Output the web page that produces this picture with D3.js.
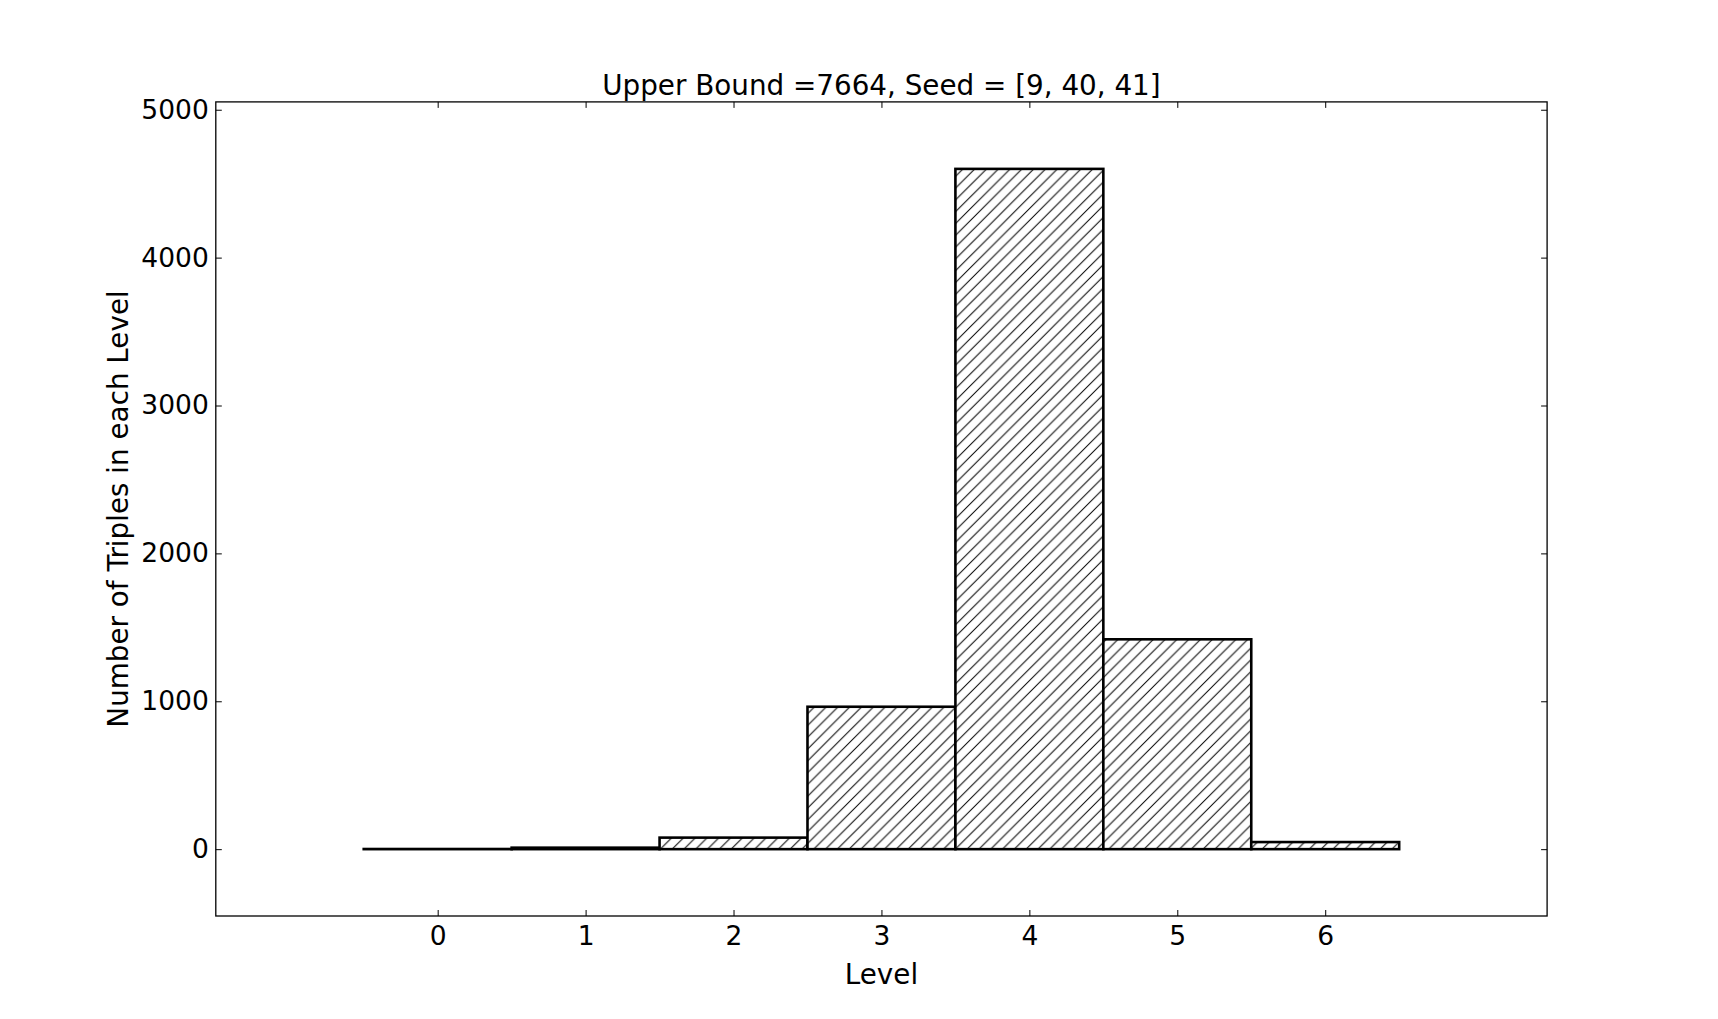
<!DOCTYPE html>
<html>
<head>
<meta charset="utf-8">
<script src="https://cdn.jsdelivr.net/npm/d3@7"></script>
<style>
  html, body { margin: 0; padding: 0; background: #fff; }
  svg { display: block; }
  text { font-family: "DejaVu Sans", sans-serif; fill: #000; }
</style>
</head>
<body>
<script>
const levels = [0, 1, 2, 3, 4, 5, 6];
const triples = [1, 10, 78, 963, 4600, 1419, 48];
const xTicks = [0, 1, 2, 3, 4, 5, 6];
const yTicks = [0, 1000, 2000, 3000, 4000, 5000];
const titleText = "Upper Bound =7664, Seed = [9, 40, 41]";
const xLabel = "Level";
const yLabel = "Number of Triples in each Level";

const W = 1718, H = 1019;
const m = { left: 215.8, top: 101.9, right: W - 1547.1, bottom: H - 916 };
const iw = W - m.left - m.right, ih = H - m.top - m.bottom;

const svg = d3.select("body").append("svg").attr("width", W).attr("height", H);

const defs = svg.append("defs");
const hp = 11.8;
const pat = defs.append("pattern").attr("id", "hatch")
  .attr("patternUnits", "userSpaceOnUse").attr("width", hp).attr("height", hp);
pat.append("rect").attr("width", hp).attr("height", hp).attr("fill", "#fff");
pat.append("path")
  .attr("d", `M0,${hp} L${hp},0 M${-hp/2},${hp/2} L${hp/2},${-hp/2} M${hp/2},${hp*1.5} L${hp*1.5},${hp/2}`)
  .attr("stroke", "#000").attr("stroke-width", 1);

const x = d3.scaleLinear().domain([-1.5, 7.5]).range([0, iw]);
const y = d3.scaleLinear().domain([-452, 5053]).range([ih, 0]);

const g = svg.append("g").attr("transform", `translate(${m.left},${m.top})`);

// bars
g.selectAll("rect.bar").data(levels).enter().append("rect")
  .attr("class", "bar")
  .attr("x", d => x(d - 0.5))
  .attr("width", d => x(d + 0.5) - x(d - 0.5))
  .attr("y", (d, i) => y(triples[i]))
  .attr("height", (d, i) => y(0) - y(triples[i]))
  .attr("fill", "url(#hatch)")
  .attr("stroke", "#000").attr("stroke-width", 2.6);

// axes with inward ticks
const fs = 26.5;
const fsL = 27.8;
const ax = (sel) => { sel.select(".domain").remove(); sel.selectAll("line").attr("stroke", "#000").attr("stroke-width", 1); };

g.append("g").attr("transform", `translate(0,${ih})`)
  .call(d3.axisBottom(x).tickValues(xTicks).tickSize(-6).tickPadding(10).tickFormat(d3.format("d")))
  .call(ax).selectAll("text").attr("font-size", fs).attr("font-family", "DejaVu Sans");
g.append("g")
  .call(d3.axisTop(x).tickValues(xTicks).tickSize(-6).tickFormat(""))
  .call(ax);
g.append("g")
  .call(d3.axisLeft(y).tickValues(yTicks).tickSize(-6).tickPadding(7).tickFormat(d3.format("d")))
  .call(ax).selectAll("text").attr("font-size", fs).attr("font-family", "DejaVu Sans");
g.append("g").attr("transform", `translate(${iw},0)`)
  .call(d3.axisRight(y).tickValues(yTicks).tickSize(-6).tickFormat(""))
  .call(ax);

// frame
g.append("rect").attr("width", iw).attr("height", ih)
  .attr("fill", "none").attr("stroke", "#000").attr("stroke-width", 1.3);

// title
svg.append("text").attr("x", m.left + iw / 2).attr("y", 95)
  .attr("text-anchor", "middle").attr("font-size", fsL).text(titleText);

// x label
svg.append("text").attr("x", m.left + iw / 2).attr("y", 984)
  .attr("text-anchor", "middle").attr("font-size", fsL).text(xLabel);

// y label
svg.append("text")
  .attr("transform", `translate(128,${m.top + ih / 2}) rotate(-90)`)
  .attr("text-anchor", "middle").attr("font-size", fsL).text(yLabel);
</script>
</body>
</html>
